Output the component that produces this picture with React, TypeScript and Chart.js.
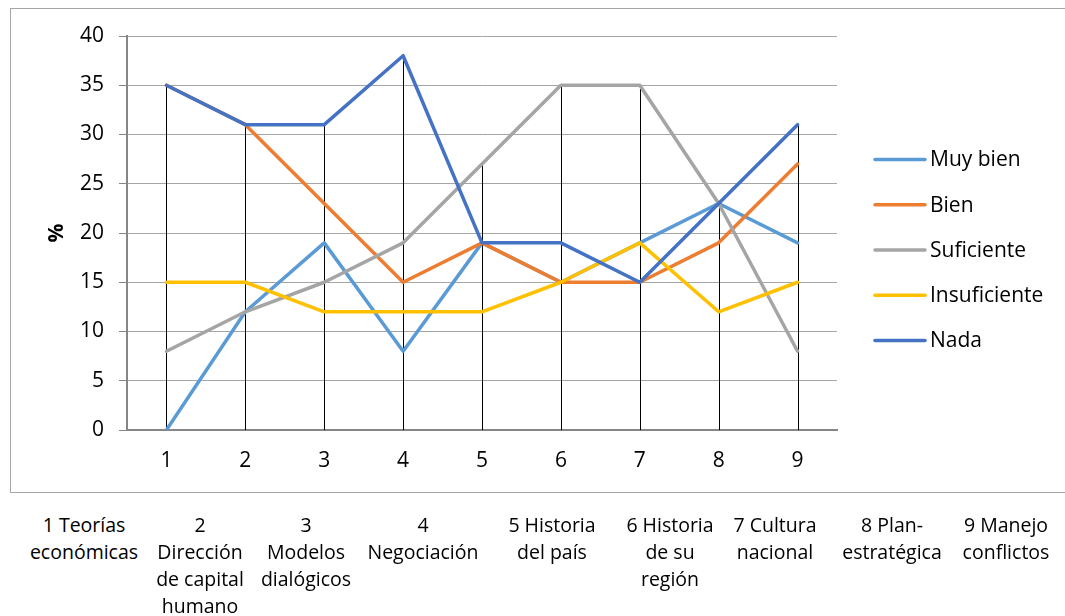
import React, { useEffect, useRef } from "react";
import { Chart, registerables } from "chart.js";

Chart.register(...registerables);

// ---- data ----
const CATEGORIES = ["1", "2", "3", "4", "5", "6", "7", "8", "9"];
const SERIES_NAMES = ["Muy bien", "Bien", "Suficiente", "Insuficiente", "Nada"];
const MUY_BIEN = [0, 12, 19, 8, 19, 15, 19, 23, 19];
const BIEN = [35, 31, 23, 15, 19, 15, 15, 19, 27];
const SUFICIENTE = [8, 12, 15, 19, 27, 35, 35, 23, 8];
const INSUFICIENTE = [15, 15, 12, 12, 12, 15, 19, 12, 15];
const NADA = [35, 31, 31, 38, 19, 19, 15, 23, 31];
const Y_TICKS = [0, 5, 10, 15, 20, 25, 30, 35, 40];
const Y_TITLE = "%";
const DESCRIPTIONS = [
  ["1 Teorías", "económicas"],
  ["2", "Dirección", "de capital", "humano"],
  ["3", "Modelos", "dialógicos"],
  ["4", "Negociación"],
  ["5 Historia", "del país"],
  ["6 Historia", "de su", "región"],
  ["7 Cultura", "nacional"],
  ["8 Plan-", "estratégica"],
  ["9 Manejo", "conflictos"],
];

// ---- styles ----
const COLORS = ["#5B9BD5", "#ED7D31", "#A5A5A5", "#FFC000", "#4472C4"];
const DRAW_ORDER = [4, 3, 2, 1, 0]; // later series on top
const FONT = "'Open Sans', 'Noto Sans', sans-serif";
const CHART_FONT_SIZE = 21;
const LINE_WIDTH = 3.5;
const DESC_CENTERS = [84, 200, 306, 423, 552, 670, 775, 892, 1006];

const dropLines = {
  id: "dropLines",
  beforeDatasetsDraw(chart: any) {
    const { ctx, scales } = chart;
    const x = scales.x;
    const y = scales.y;
    const zero = y.getPixelForValue(0);
    ctx.save();
    ctx.strokeStyle = "#000";
    ctx.lineWidth = 1;
    CATEGORIES.forEach((_, i) => {
      const max = Math.max(...chart.data.datasets.map((d: any) => d.data[i]));
      const px = Math.round(x.getPixelForValue(i)) + 0.5;
      ctx.beginPath();
      ctx.moveTo(px, y.getPixelForValue(max));
      ctx.lineTo(px, zero);
      ctx.stroke();
    });
    ctx.restore();
  },
};

const sideLegend = {
  id: "sideLegend",
  afterDraw(chart: any) {
    const { ctx, chartArea } = chart;
    const x0 = chartArea.right + 38;
    const spacing = 45.25;
    const n = SERIES_NAMES.length;
    const cy = chart.height / 2;
    ctx.save();
    ctx.font = `${CHART_FONT_SIZE}px ${FONT}`;
    ctx.textBaseline = "middle";
    ctx.textAlign = "left";
    SERIES_NAMES.forEach((name, i) => {
      const y = cy + (i - (n - 1) / 2) * spacing;
      ctx.strokeStyle = COLORS[i];
      ctx.lineWidth = LINE_WIDTH;
      ctx.lineCap = "round";
      ctx.beginPath();
      ctx.moveTo(x0, y);
      ctx.lineTo(x0 + 50, y);
      ctx.stroke();
      ctx.fillStyle = "#000";
      ctx.fillText(name, x0 + 55, y + 1);
    });
    ctx.restore();
  },
};

export default function App() {
  const ref = useRef<HTMLCanvasElement | null>(null);

  useEffect(() => {
    if (!ref.current) return;
    const seriesData = [MUY_BIEN, BIEN, SUFICIENTE, INSUFICIENTE, NADA];
    const chart = new Chart(ref.current, {
      type: "line",
      data: {
        labels: CATEGORIES,
        datasets: SERIES_NAMES.map((name, i) => ({
          label: name,
          data: seriesData[i],
          borderColor: COLORS[i],
          backgroundColor: COLORS[i],
          borderWidth: LINE_WIDTH,
          pointRadius: 0,
          tension: 0,
          fill: false,
          borderJoinStyle: "round" as const,
          borderCapStyle: "round" as const,
          order: DRAW_ORDER[i],
        })),
      },
      options: {
        animation: false,
        responsive: false,
        maintainAspectRatio: false,
        layout: { padding: { top: 28, right: 228, left: 0, bottom: 0 } },
        plugins: {
          legend: { display: false },
          tooltip: { enabled: false },
        },
        scales: {
          x: {
            offset: true,
            grid: { display: false, drawTicks: false },
            border: { display: true, color: "#868686", width: 2 },
            ticks: {
              padding: 18,
              color: "#000",
              font: { family: FONT, size: CHART_FONT_SIZE },
            },
            afterFit(scale: any) {
              scale.height = 62;
            },
          },
          y: {
            min: 0,
            max: 40,
            afterBuildTicks(scale: any) {
              scale.ticks = Y_TICKS.map((v) => ({ value: v }));
            },
            grid: {
              color: "#a6a6a6",
              lineWidth: 1,
              tickLength: 8,
              tickColor: "#868686",
            },
            border: { display: true, color: "#868686", width: 2 },
            ticks: {
              padding: 15,
              color: "#000",
              font: { family: FONT, size: CHART_FONT_SIZE },
            },
            title: {
              display: true,
              text: Y_TITLE,
              color: "#000",
              font: { family: FONT, size: CHART_FONT_SIZE, weight: "bold" },
              padding: { top: 34, bottom: 0 },
            },
            afterFit(scale: any) {
              scale.width = 117;
            },
          },
        },
      },
      plugins: [dropLines, sideLegend],
    });
    return () => chart.destroy();
  }, []);

  return (
    <div
      style={{
        position: "fixed",
        left: 0,
        top: 0,
        width: 1065,
        height: 616,
        background: "#fff",
        fontFamily: FONT,
      }}
    >
      <div
        style={{
          position: "absolute",
          left: 10,
          top: 8,
          width: 1060,
          height: 485,
          boxSizing: "border-box",
          border: "1.5px solid #a6a6a6",
        }}
      />
      <canvas
        ref={ref}
        width={1055}
        height={484}
        style={{ position: "absolute", left: 10, top: 8, width: 1055, height: 484 }}
      />
      {DESCRIPTIONS.map((lines, i) => (
        <div
          key={i}
          style={{
            position: "absolute",
            left: DESC_CENTERS[i] - 75,
            top: 511,
            width: 150,
            textAlign: "center",
            fontSize: 19.5,
            lineHeight: "27px",
            color: "#000",
          }}
        >
          {lines.map((l, j) => (
            <div key={j}>{l}</div>
          ))}
        </div>
      ))}
    </div>
  );
}
